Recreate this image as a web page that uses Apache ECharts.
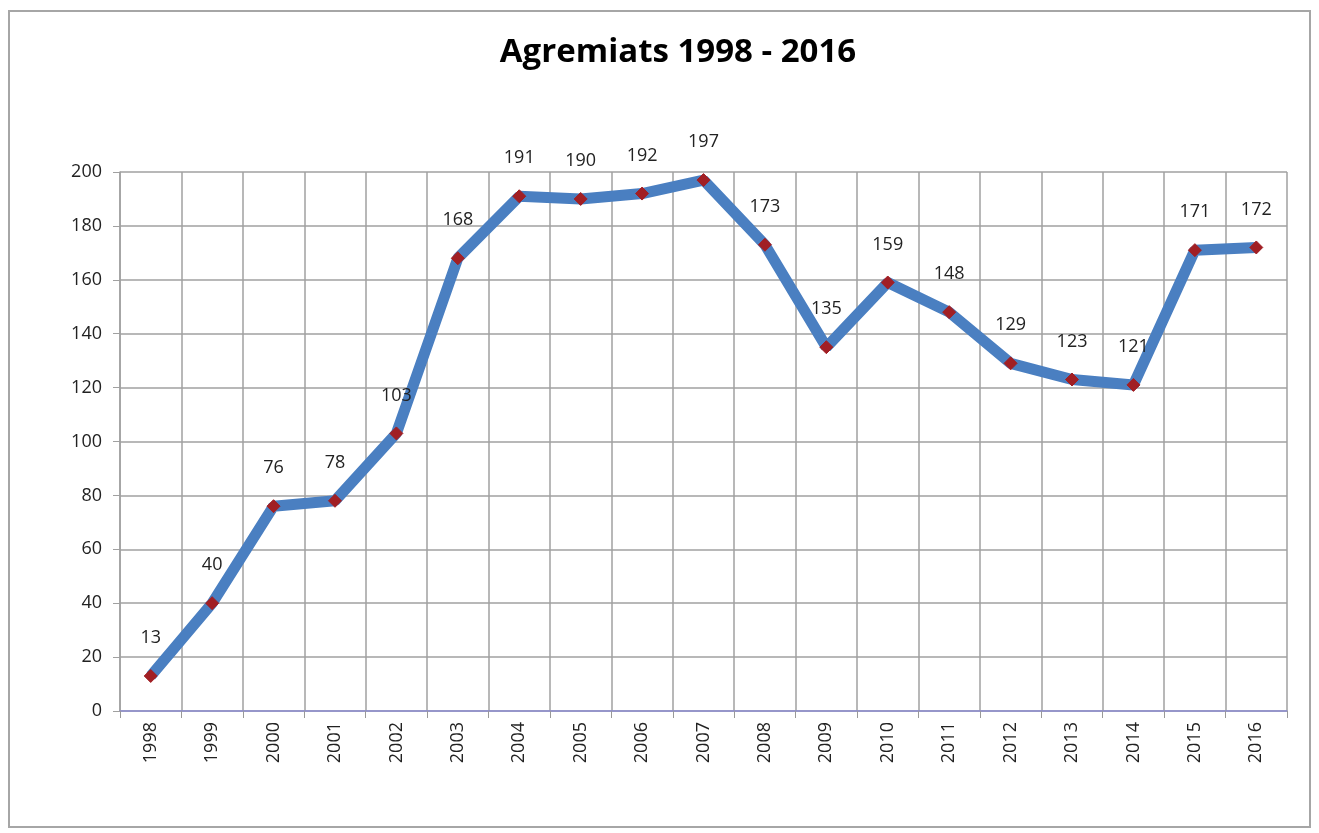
<!DOCTYPE html>
<html>
<head>
<meta charset="utf-8">
<script src="https://cdn.jsdelivr.net/npm/echarts@6/dist/echarts.min.js"></script>
<style>
  html, body { margin: 0; padding: 0; background: #fff; }
  #frame {
    position: absolute;
    left: 8px; top: 10px;
    width: 1303px; height: 818px;
    border: 2px solid #a6a6a6;
    box-sizing: border-box;
  }
  #chart_main {
    position: absolute;
    left: 0; top: 0;
    width: 1319px; height: 833px;
  }
</style>
</head>
<body>
<div id="frame"></div>
<div id="chart_main"></div>
<script>
// anys i agremiats
var years = ["1998", "1999", "2000", "2001", "2002", "2003", "2004", "2005", "2006", "2007",
             "2008", "2009", "2010", "2011", "2012", "2013", "2014", "2015", "2016"];
var agremiats = [13, 40, 76, 78, 103, 168, 191, 190, 192, 197,
                 173, 135, 159, 148, 129, 123, 121, 171, 172];
var yTicks = [0, 20, 40, 60, 80, 100, 120, 140, 160, 180, 200];

var myChart = echarts.init(document.getElementById("chart_main"));
var option = {
  backgroundColor: "transparent",
  animation: false,
  title: {
    text: "Agremiats 1998 - 2016",
    left: 673,
    top: 31,
    textAlign: "center",
    textStyle: {
      fontFamily: "Open Sans",
      fontWeight: "bold",
      fontSize: 33,
      color: "#000"
    }
  },
  grid: {
    left: 120,
    right: 32,
    top: 172,
    bottom: 122
  },
  xAxis: {
    type: "category",
    data: years,
    boundaryGap: true,
    axisLine: { lineStyle: { color: "#8a8ad0", width: 1.5 } },
    axisTick: { show: true, length: 7, lineStyle: { color: "#999" } },
    splitLine: { show: true, interval: 0, lineStyle: { color: "#a0a0a0", width: 1.5 } },
    axisLabel: {
      interval: 0,
      rotate: 90,
      margin: 11,
      fontFamily: "Open Sans",
      fontSize: 18,
      color: "#222"
    }
  },
  yAxis: {
    type: "value",
    min: yTicks[0],
    max: yTicks[yTicks.length - 1],
    interval: 20,
    axisLine: { show: true, lineStyle: { color: "#a0a0a0", width: 1.5 } },
    axisTick: { show: true, length: 7, lineStyle: { color: "#a0a0a0" } },
    splitLine: { show: true, lineStyle: { color: "#a0a0a0", width: 1.5 } },
    axisLabel: {
      margin: 18,
      fontFamily: "Open Sans",
      fontSize: 18,
      color: "#222"
    }
  },
  series: [
    {
      name: "Agremiats",
      type: "line",
      data: agremiats,
      symbol: "diamond",
      symbolSize: 13,
      itemStyle: { color: "#a11f24", borderColor: "#a11f24" },
      lineStyle: { color: "#4a7fc1", width: 11 },
      label: {
        show: true,
        position: "top",
        distance: 22,
        fontFamily: "Open Sans",
        fontSize: 18,
        color: "#222"
      },
      z: 3
    }
  ]
};
myChart.setOption(option);
window.addEventListener("resize", function() {
  myChart.resize();
});
</script>
</body>
</html>
